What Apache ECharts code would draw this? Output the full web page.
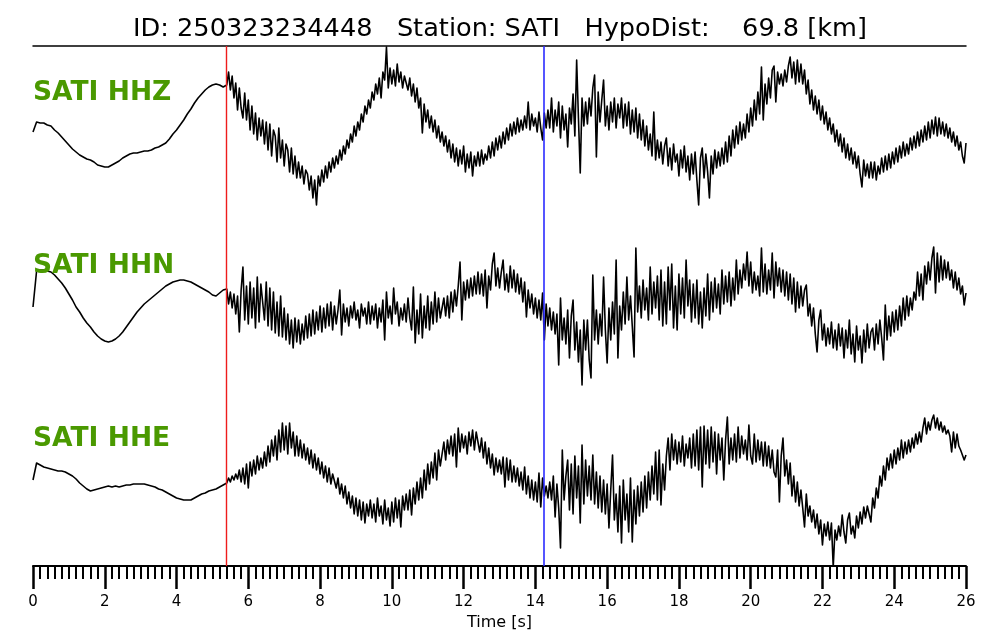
<!DOCTYPE html>
<html><head><meta charset="utf-8">
<script src="https://cdn.jsdelivr.net/npm/echarts/dist/echarts.min.js"></script>
<style>html,body{margin:0;padding:0;background:#fff}#c{width:1000px;height:640px}</style>
</head><body><div id="c"></div>
<script>
// ---- text ----
const titleText = 'ID: 250323234448   Station: SATI   HypoDist:    69.8 [km]';
const stationName = 'SATI';
const channels = ['HHZ', 'HHN', 'HHE'];
const xAxisName = 'Time [s]';
const xTickValues = [0, 2, 4, 6, 8, 10, 12, 14, 16, 18, 20, 22, 24, 26];
const xTickLabels = ['0', '2', '4', '6', '8', '10', '12', '14', '16', '18', '20', '22', '24', '26'];

// ---- picks [s] ----
const pickP = 5.38;
const pickS = 14.23;

// ---- sampling ----
const preStep = 0.1;     // pre-event samples every 0.1 s from 0
const postStart = 5.4;   // post-event samples evenly spaced from 5.4 s ...
const postEnd = 26.0;    // ... to 26 s

// ---- HHZ amplitudes (arbitrary units, up = positive) ----
const hhzPre = [-4,6,5,5,3,2,-2,-5,-9,-13,-17,-21,-24,-27,-29,-31,-32,-34,-37,-38,-39,-39,-37,-35,-33,-30,-28,-26,-25,-25,-24,-23,-23,-22,-20,-19,-17,-15,-11,-6,-2,3,8,14,19,25,30,34,38,41,43,44,43,41];
const hhzPost = [
43,56,38,52,30,45,18,40,20,10,35,8,28,-2,22,-6,15,-12,10,-8,
8,-16,6,-22,4,-28,-2,-8,-34,0,-30,-12,-38,-16,-22,-44,-20,-46,-28,-50,
-34,-50,-38,-56,-42,-46,-62,-48,-70,-52,-77,-48,-58,-42,-54,-38,-50,-34,-44,-30,
-40,-28,-36,-22,-32,-18,-26,-12,-20,-6,-14,2,-8,6,-2,14,6,22,14,28,
20,36,28,44,34,50,30,56,48,81,40,60,44,58,42,64,46,56,40,52,
54,38,50,32,44,26,40,20,30,-5,24,6,18,0,12,-4,8,-10,2,-14,
-4,-18,-8,-24,-12,-30,-16,-34,-20,-38,-22,-36,-18,-44,-26,-40,-24,-48,-28,-38,
-24,-38,-22,-36,-26,-32,-18,-30,-14,-28,-10,-22,-8,-20,-4,-16,0,-12,4,-8,
6,-6,10,-4,8,-2,12,0,26,-2,14,2,10,-4,16,0,-12,15,0,18,
0,30,-4,18,2,26,-10,22,-2,14,-19,20,4,34,-8,68,10,-45,30,2,
26,4,30,12,40,53,-29,36,6,28,48,2,22,-2,26,6,30,0,24,10,
30,0,24,2,26,-6,18,-4,20,-10,14,-12,8,-18,2,-22,-6,-28,16,-32,
-12,-30,-14,-36,-18,-10,-38,-20,-42,-16,-34,-26,-48,-22,-40,-18,-44,-28,-52,-26,
-46,-24,-52,-77,-30,-20,-50,-26,-44,-70,-28,-46,-22,-40,-24,-38,-20,-36,-14,-34,
-8,-28,-2,-20,2,-16,6,-12,4,-10,14,-4,20,2,28,8,36,14,61,8,
44,24,50,30,58,62,26,56,44,54,42,58,46,62,71,50,66,44,68,46,
64,44,58,34,48,24,38,18,32,14,28,8,22,4,16,-2,10,-6,4,-14,
-2,-18,-6,-24,-10,-30,-16,-32,-20,-36,-24,-40,-28,-46,-59,-32,-48,-36,-50,-34,
-50,-34,-52,-38,-46,-30,-44,-28,-42,-26,-40,-24,-36,-20,-34,-18,-30,-14,-28,-16,
-26,-10,-22,-8,-20,-4,-18,-2,-14,2,-12,6,-10,8,-6,11,-8,10,-6,6,
-8,4,-10,0,-14,-4,-18,-8,-22,-14,-28,-35,-15];

// ---- HHN amplitudes ----
const hhnPre = [-7,29,30,30,29,28,25,21,17,12,6,0,-7,-12,-18,-23,-27,-32,-36,-39,-41,-42,-41,-39,-36,-32,-27,-22,-17,-12,-8,-4,-1,2,5,8,11,14,16,18,19,20,20,19,18,16,14,12,10,8,5,4,7,10];
const hhnPost = [
11,-4,8,-8,6,-14,4,-32,10,33,-20,14,-24,18,-18,12,-28,23,-22,16,
14,-20,18,-26,12,-30,8,-33,-2,-36,4,-37,-8,-40,-14,-44,-20,-48,-18,-42,
-20,-44,-24,-40,-16,-38,-14,-36,-10,-34,-12,-30,-6,-32,-8,-28,-4,-26,-2,-30,
-6,-24,-10,10,-35,-4,-22,-8,-26,-6,-18,-2,-20,-10,-28,-4,-16,-8,-24,-2,
-24,-6,-20,-4,-28,-8,-22,0,-40,8,-18,-6,-24,12,-14,-2,-26,-8,-20,-4,
-22,2,-18,-30,13,-43,-10,-34,6,-38,-6,-28,4,-30,-2,-24,8,-22,2,-18,
-20,2,-16,4,-18,8,-12,10,-6,14,38,-20,18,0,20,2,22,4,24,6,
28,6,26,4,30,-8,24,10,36,47,14,32,12,28,40,10,26,8,34,12,
30,8,26,6,22,-2,18,-17,10,-8,6,-14,2,-18,0,-20,7,-40,-4,-26,
-8,-30,-12,-34,-14,-65,2,-40,-18,-44,-10,-58,-16,0,-50,-22,-62,-30,-85,-20,
-50,-20,-60,-78,25,-40,-10,-44,-14,-36,23,-30,-63,-8,-40,-2,-34,40,-58,-6,
-30,8,-24,23,-20,4,-26,-57,52,-12,14,-18,20,-10,12,-20,33,-14,18,-8,
24,-20,30,-26,18,-24,33,-10,36,-28,14,-30,26,-14,22,-18,40,-6,20,-22,
16,-18,20,-24,8,-28,12,-16,26,-20,18,-12,22,-8,16,-14,30,-4,24,-2,
28,-6,22,0,40,6,30,12,36,20,48,14,38,7,28,10,24,4,52,8,
36,6,30,10,47,2,38,14,32,8,30,4,28,0,26,-4,22,-12,18,-8,
14,-6,10,15,-16,-4,-26,-8,-34,-52,-20,-10,-40,-24,-46,-28,-44,-22,-48,-30,
-50,-24,-46,-28,-58,-30,-48,-20,-54,-34,-62,-26,-50,-36,-63,-30,-52,-24,-48,-32,
-28,-50,-24,-44,-20,-38,-60,-5,-40,-16,-36,-12,-32,-10,-30,-6,-26,2,-20,4,
-16,2,-10,8,0,28,4,26,0,34,16,38,20,42,53,7,47,18,44,20,
40,22,38,20,30,12,28,10,22,6,14,-5,7];

// ---- HHE amplitudes ----
const hhePre = [-10,7,5,3,2,1,0,-1,-1,-2,-4,-6,-9,-13,-16,-19,-21,-20,-19,-18,-17,-16,-17,-16,-17,-16,-15,-15,-14,-14,-14,-14,-15,-16,-17,-19,-20,-22,-24,-26,-28,-29,-30,-30,-30,-28,-26,-24,-23,-21,-20,-19,-17,-15];
const hhePost = [
-13,-8,-12,-6,-10,-4,-9,0,-12,2,-14,6,-18,8,-6,10,-4,14,0,12,
2,18,4,24,8,30,14,34,10,40,18,47,20,44,16,47,22,38,14,34,
14,30,12,26,10,22,6,20,2,16,0,12,-4,8,-8,4,-12,2,-14,-4,
-6,-18,-8,-24,-14,-28,-16,-34,-22,-38,-26,-44,-28,-46,-30,-50,-32,-53,-34,-46,
-30,-48,-34,-52,-28,-46,-36,-54,-30,-50,-38,-56,-32,-52,-28,-48,-30,-57,-26,-40,
-24,-40,-20,-45,-18,-34,-12,-30,-8,-28,0,-20,6,-14,8,-8,17,-10,20,4,
6,28,10,30,16,34,14,36,3,42,18,36,22,34,16,38,24,40,20,38,
36,18,32,12,28,6,22,2,16,-5,12,-2,10,-4,13,-17,12,-10,10,-12,
4,-12,2,-16,-2,-20,3,-24,-6,-28,-10,-30,-12,-32,-3,-37,-8,-26,-16,-28,
-12,-30,-6,-47,-14,-38,-78,20,-30,-6,10,-40,6,-44,14,-28,4,-53,25,-34,
10,-26,4,-30,15,-34,-2,-38,-6,-42,-10,-44,-14,-58,-20,15,-50,-24,-62,-16,
-73,-10,-50,-24,-62,-8,-72,-20,-54,-16,-46,-12,-42,-6,-38,-2,-30,4,-24,18,
-30,20,-35,6,-20,14,32,0,36,10,30,6,28,8,34,4,26,12,32,2,
36,4,40,0,43,-17,44,6,40,2,43,8,38,-4,36,10,32,-10,30,53,
6,32,10,36,8,43,12,34,16,30,10,45,14,6,36,8,30,10,28,4,
28,4,24,2,20,-2,-7,20,-32,14,32,-6,10,-14,7,-26,-6,-32,-12,-36,
-20,-38,-57,-24,-46,-36,-52,-40,-58,-44,-64,-50,-75,-54,-66,-52,-70,-53,-97,-60,
-70,-56,-66,-45,-62,-73,-50,-43,-64,-56,-68,-46,-58,-42,-54,-37,-48,-36,-44,-52,
-28,-38,-18,-28,-6,-16,4,-10,12,0,16,2,20,6,22,10,30,12,28,16,
30,18,32,22,36,26,38,28,42,52,36,48,40,50,55,42,52,40,48,38,
44,36,40,34,18,38,22,36,24,20,22,10,15];

// ---- assemble ----
const traces = [
  { pre: hhzPre, post: hhzPost, base: 128 },
  { pre: hhnPre, post: hhnPost, base: 300 },
  { pre: hhePre, post: hhePost, base: 470 }
];
function build(tr) {
  const out = [];
  tr.pre.forEach((v, i) => out.push([+(i * preStep).toFixed(3), tr.base - v]));
  const dt = (postEnd - postStart) / (tr.post.length - 1);
  tr.post.forEach((v, i) => out.push([+(postStart + i * dt).toFixed(4), tr.base - v]));
  return out;
}

const chart = echarts.init(document.getElementById('c'), null, { renderer: 'canvas' });
const font = '"DejaVu Sans", "Liberation Sans", sans-serif';
const labelTops = [97, 270, 443];

const series = traces.map((tr, i) => ({
  type: 'line',
  name: channels[i],
  data: build(tr),
  showSymbol: false,
  symbol: 'none',
  silent: true,
  animation: false,
  lineStyle: { color: '#000', width: 1.6, join: 'round' },
  z: 3
}));
series[0].markLine = {
  silent: true,
  symbol: ['none', 'none'],
  animation: false,
  label: { show: false },
  data: [
    { xAxis: pickP, lineStyle: { color: '#ee1c1c', width: 1.4, type: 'solid' } },
    { xAxis: pickS, lineStyle: { color: '#2b2bff', width: 1.6, type: 'solid' } }
  ]
};

chart.setOption({
  animation: false,
  backgroundColor: '#fff',
  title: {
    text: titleText,
    left: 'center',
    top: 11,
    textStyle: { fontFamily: font, fontSize: 25.6, fontWeight: 'normal', color: '#000' }
  },
  grid: { left: 33, right: 34, top: 46, bottom: 74, containLabel: false, outerBoundsMode: 'none' },
  xAxis: [{
    type: 'value', min: 0, max: 26, interval: 2, position: 'bottom',
    axisLine: { show: true, onZero: false, lineStyle: { color: '#000', width: 2 } },
    axisTick: { show: true, inside: false, length: 23, lineStyle: { color: '#000', width: 2.5 } },
    minorTick: { show: true, splitNumber: 10, length: 13, lineStyle: { color: '#000', width: 2 } },
    splitLine: { show: false },
    minorSplitLine: { show: false },
    axisLabel: {
      color: '#000', fontSize: 15, fontFamily: font, margin: 29,
      formatter: v => { const k = xTickValues.indexOf(Math.round(v)); return k >= 0 ? xTickLabels[k] : ''; }
    },
    name: xAxisName, nameLocation: 'middle', nameGap: 43,
    nameTextStyle: { color: '#000', fontSize: 16, fontFamily: font }
  }, {
    type: 'value', min: 0, max: 26, position: 'top',
    axisLine: { show: true, onZero: false, lineStyle: { color: '#000', width: 1.5 } },
    axisTick: { show: false }, axisLabel: { show: false }, splitLine: { show: false }
  }],
  yAxis: { type: 'value', inverse: true, min: 46, max: 566, show: false, splitLine: { show: false } },
  graphic: channels.map((ch, i) => ({
    type: 'text', left: 33, top: labelTops[i] - 17, z: 10,
    style: { text: stationName + ' ' + ch, fill: '#4a9900', font: 'bold 26.5px ' + font }
  })),
  series: series
});
</script>
</body></html>
